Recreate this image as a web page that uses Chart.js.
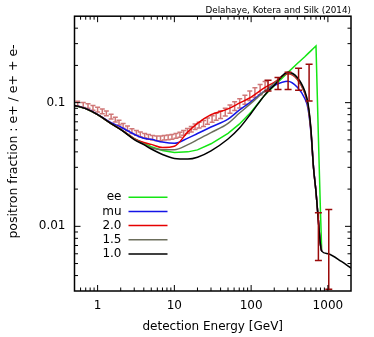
<!DOCTYPE html>
<html>
<head>
<meta charset="utf-8">
<script src="https://cdn.jsdelivr.net/npm/chart.js@4"></script>
<style>
  html, body { margin: 0; padding: 0; background: #fff; }
  canvas { display: block; }
</style>
</head>
<body>
<canvas id="fraction" width="374" height="337"></canvas>
<script>
// energy grid (GeV) shared by the model curves
const energy = [0.5, 0.7, 1, 1.5, 2, 3, 4, 5, 7, 10, 15, 20, 30, 50, 70, 100, 150, 200, 300, 400, 500, 550, 600, 650, 700, 750, 800, 830, 1000, 1500, 2000];

const fracEE = [0.095, 0.0895, 0.080, 0.0678, 0.0607, 0.0512, 0.047, 0.044, 0.041, 0.0395, 0.040, 0.0415, 0.0465, 0.0565, 0.067, 0.084, 0.115, 0.137, 0.175, 0.207, 0.235, 0.249, 0.262, 0.275, 0.287, 0.056, 0.0133, 0.0065, null, null, null];
const fracMu = [0.095, 0.0897, 0.0805, 0.0688, 0.0635, 0.0555, 0.0515, 0.0505, 0.048, 0.0469, 0.0517, 0.0563, 0.0635, 0.0736, 0.087, 0.102, 0.124, 0.138, 0.149, 0.133, 0.108, 0.090, 0.058, 0.030, 0.019, 0.0113, 0.0071, 0.0063, null, null, null];
const frac20 = [0.095, 0.0895, 0.080, 0.0678, 0.0608, 0.0512, 0.0476, 0.046, 0.0434, 0.0444, 0.058, 0.068, 0.080, 0.089, 0.099, 0.111, 0.132, 0.146, 0.171, 0.154, 0.119, 0.095, 0.060, 0.0296, 0.019, 0.0113, 0.0071, 0.0063, null, null, null];
const frac15 = [0.095, 0.0895, 0.080, 0.0677, 0.0607, 0.0507, 0.0463, 0.0432, 0.0416, 0.0416, 0.0458, 0.0502, 0.0572, 0.068, 0.082, 0.099, 0.124, 0.143, 0.174, 0.157, 0.121, 0.096, 0.061, 0.0296, 0.019, 0.0113, 0.0071, 0.0063, null, null, null];
const frac10 = [0.095, 0.0895, 0.080, 0.0677, 0.0606, 0.0503, 0.0457, 0.0422, 0.0381, 0.0354, 0.035, 0.0362, 0.0408, 0.0508, 0.062, 0.082, 0.115, 0.138, 0.176, 0.160, 0.124, 0.099, 0.0623, 0.0296, 0.019, 0.0113, 0.0071, 0.0063, 0.006, 0.0052, 0.0046];

// measured fraction, low energy set (pink)
const amsE = [0.55, 0.65, 0.75, 0.87, 1.0, 1.15, 1.3, 1.5, 1.7, 1.9, 2.15, 2.45, 2.8, 3.2, 3.6, 4.1, 4.6, 5.2, 5.9, 6.6, 7.4, 8.3, 9.3, 10.5, 11.8, 13.2, 14.8, 16.6, 18.6, 21, 24, 27, 31, 35, 40, 46, 53, 61, 71, 83, 96, 112, 131, 152];
const amsF = [0.098, 0.096, 0.094, 0.091, 0.088, 0.085, 0.082, 0.077, 0.073, 0.069, 0.065, 0.062, 0.059, 0.057, 0.0555, 0.054, 0.053, 0.052, 0.0515, 0.0515, 0.052, 0.0525, 0.053, 0.054, 0.055, 0.057, 0.059, 0.061, 0.064, 0.066, 0.068, 0.071, 0.074, 0.077, 0.080, 0.084, 0.089, 0.094, 0.099, 0.106, 0.114, 0.121, 0.128, 0.135];
const amsErr = [0.0045, 0.0045, 0.004, 0.004, 0.004, 0.0038, 0.0036, 0.0034, 0.0032, 0.003, 0.0028, 0.0027, 0.0026, 0.0025, 0.0024, 0.0023, 0.0023, 0.0022, 0.0022, 0.0022, 0.0022, 0.0023, 0.0023, 0.0024, 0.0025, 0.0026, 0.0028, 0.003, 0.0033, 0.0035, 0.0038, 0.004, 0.0045, 0.005, 0.0055, 0.006, 0.0068, 0.0075, 0.0083, 0.009, 0.01, 0.011, 0.012, 0.013];

// high energy points (dark red)
const highE = [166, 224, 303, 415, 569, 752, 1027];
const highLo = [0.124, 0.128, 0.128, 0.126, 0.103, 0.0053, 0.0031];
const highHi = [0.152, 0.160, 0.176, 0.190, 0.204, 0.0129, 0.0137];

const xMajor = [1, 10, 100, 1000];
const yMajor = [0.01, 0.1];

Chart.defaults.font.family = "'DejaVu Sans', sans-serif";
Chart.defaults.color = '#000';

function errorBars(ctx, x, y, es, lo, hi, color, cap) {
  ctx.strokeStyle = color;
  ctx.lineWidth = 1.5;
  ctx.beginPath();
  es.forEach((e, i) => {
    const px = x.getPixelForValue(e);
    const p1 = y.getPixelForValue(lo[i]);
    const p2 = y.getPixelForValue(hi[i]);
    ctx.moveTo(px, p1); ctx.lineTo(px, p2);
    ctx.moveTo(px - cap, p1); ctx.lineTo(px + cap, p1);
    ctx.moveTo(px - cap, p2); ctx.lineTo(px + cap, p2);
  });
  ctx.stroke();
}

function minors(lo, hi) {
  const out = [];
  for (let d = 0.001; d < hi; d *= 10) {
    for (let m = 2; m <= 9; m++) {
      const v = m * d;
      if (v > lo * 1.0001 && v < hi * 0.9999) out.push(v);
    }
  }
  return out;
}

const gnuplotFrame = {
  id: 'gnuplotFrame',
  beforeDatasetsDraw(chart) {
    const {ctx, chartArea: a, scales: {x, y}} = chart;
    ctx.save();
    ctx.beginPath();
    ctx.rect(a.left, a.top, a.right - a.left, a.bottom - a.top);
    ctx.clip();
    errorBars(ctx, x, y, amsE,
      amsF.map((f, i) => f - amsErr[i]),
      amsF.map((f, i) => f + amsErr[i]),
      'rgba(200,95,95,0.85)', 2.5);
    ctx.restore();
  },
  afterDatasetsDraw(chart) {
    const {ctx, chartArea: a, scales: {x, y}} = chart;
    ctx.save();
    ctx.beginPath();
    ctx.rect(a.left, a.top, a.right - a.left, a.bottom - a.top);
    ctx.clip();
    errorBars(ctx, x, y, highE, highLo, highHi, '#9a0a0a', 3.5);
    ctx.restore();
  },
  afterDraw(chart) {
    const {ctx, chartArea: a, scales: {x, y}} = chart;
    ctx.save();
    ctx.strokeStyle = '#000';
    ctx.lineWidth = 1;
    ctx.beginPath();
    const tickX = (v, len) => {
      const px = x.getPixelForValue(v);
      ctx.moveTo(px, a.bottom); ctx.lineTo(px, a.bottom - len);
      ctx.moveTo(px, a.top); ctx.lineTo(px, a.top + len);
    };
    const tickY = (v, len) => {
      const py = y.getPixelForValue(v);
      ctx.moveTo(a.left, py); ctx.lineTo(a.left + len, py);
      ctx.moveTo(a.right, py); ctx.lineTo(a.right - len, py);
    };
    xMajor.forEach(v => tickX(v, 6));
    minors(x.min, x.max).forEach(v => tickX(v, 3.5));
    yMajor.forEach(v => tickY(v, 6));
    minors(y.min, y.max).forEach(v => tickY(v, 3.5));
    ctx.stroke();

    ctx.lineWidth = 1.5;
    ctx.strokeRect(a.left, a.top, a.right - a.left, a.bottom - a.top);

    // key, inside the plot
    ctx.font = "12px 'DejaVu Sans'";
    ctx.textAlign = 'right';
    ctx.textBaseline = 'middle';
    ctx.fillStyle = '#000';
    chart.data.datasets.forEach((ds, i) => {
      const ly = a.top + 181 + i * 14.2;
      ctx.fillText(ds.label, a.left + 47, ly);
      ctx.strokeStyle = ds.borderColor;
      ctx.lineWidth = 1.5;
      ctx.beginPath();
      ctx.moveTo(a.left + 54, ly);
      ctx.lineTo(a.left + 93, ly);
      ctx.stroke();
    });

    // y axis title
    ctx.translate(13.5, 141.5);
    ctx.rotate(-Math.PI / 2);
    ctx.textAlign = 'center';
    ctx.font = "12.5px 'DejaVu Sans'";
    ctx.fillText('positron fraction : e+ / e+ + e-', 0, 0);
    ctx.restore();
  }
};

const models = [
  { label: 'ee', values: fracEE, color: '#14e614', order: 4, smooth: false },
  { label: 'mu', values: fracMu, color: '#1414e6', order: 3, smooth: true },
  { label: '2.0', values: frac20, color: '#e60000', order: 2, smooth: true },
  { label: '1.5', values: frac15, color: '#6c6e5c', order: 1, smooth: true },
  { label: '1.0', values: frac10, color: '#000000', order: 0, smooth: true }
];

new Chart(
  document.getElementById('fraction'),
  {
    type: 'line',
    data: {
      datasets: models.map(m => ({
        label: m.label,
        data: energy.map((e, k) => ({ x: e, y: m.values[k] })),
        borderColor: m.color,
        borderWidth: 1.5,
        pointRadius: 0,
        fill: false,
        cubicInterpolationMode: m.smooth ? 'monotone' : 'default',
        tension: 0,
        order: m.order
      }))
    },
    options: {
      responsive: false,
      animation: false,
      layout: { padding: { left: 0, right: 23, top: 0, bottom: 0 } },
      plugins: {
        legend: { display: false },
        tooltip: { enabled: false },
        title: {
          display: true,
          text: 'Delahaye, Kotera and Silk (2014)',
          align: 'end',
          color: '#000',
          font: { size: 8.8, weight: 'normal' },
          padding: { top: 5, bottom: 0 }
        }
      },
      scales: {
        x: {
          type: 'logarithmic',
          min: 0.5,
          max: 2000,
          afterBuildTicks: s => { s.ticks = xMajor.map(v => ({ value: v })); },
          afterFit: s => { s.height = 46; },
          grid: { display: false, drawTicks: false },
          border: { display: false },
          ticks: {
            font: { size: 12 },
            padding: 8,
            maxRotation: 0,
            autoSkip: false,
            callback: v => String(v)
          },
          title: {
            display: true,
            text: 'detection Energy [GeV]',
            font: { size: 12 },
            padding: { top: 0, bottom: 3 }
          }
        },
        y: {
          type: 'logarithmic',
          min: 0.003,
          max: 0.5,
          afterBuildTicks: s => { s.ticks = yMajor.map(v => ({ value: v })); },
          afterFit: s => { s.width = 74.5; },
          grid: { display: false, drawTicks: false },
          border: { display: false },
          ticks: {
            font: { size: 12 },
            padding: 9,
            autoSkip: false,
            callback: v => String(v)
          }
        }
      }
    },
    plugins: [gnuplotFrame]
  }
);
</script>
</body>
</html>
